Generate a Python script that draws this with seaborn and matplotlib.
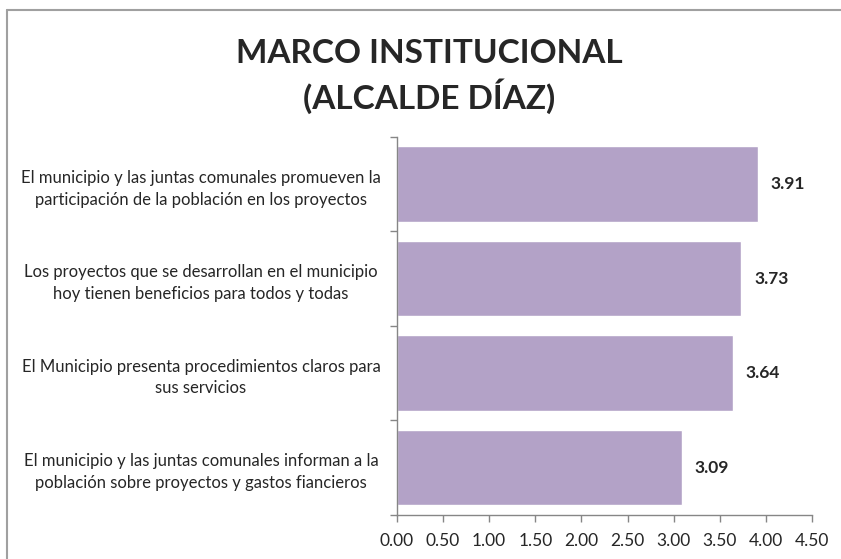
import matplotlib.pyplot as plt
from matplotlib.lines import Line2D
from matplotlib.ticker import FixedLocator
import seaborn as sns
import pandas as pd

# data
items = [
    "El municipio y las juntas comunales promueven la\nparticipación de la población en los proyectos",
    "Los proyectos que se desarrollan en el municipio\nhoy tienen beneficios para todos y todas",
    "El Municipio presenta procedimientos claros para\nsus servicios",
    "El municipio y las juntas comunales informan a la\npoblación sobre proyectos y gastos fiancieros",
]
scores = [3.91, 3.73, 3.64, 3.09]
x_ticks = [0.0, 0.5, 1.0, 1.5, 2.0, 2.5, 3.0, 3.5, 4.0, 4.5]

df = pd.DataFrame({"item": items, "score": scores})

sns.set_style("white")
plt.rcParams["font.family"] = ["Lato", "DejaVu Sans"]

fig = plt.figure(figsize=(8.41, 5.59), dpi=100)
ax = fig.add_axes([0.472, 0.079, 0.4935, 0.676])

sns.barplot(data=df, x="score", y="item", orient="h", color="#B3A2C7",
            saturation=1, width=0.8, ax=ax)

ax.set_xlim(0, 4.5)
ax.set_xticks(x_ticks)
ax.set_xticklabels([f"{t:.2f}" for t in x_ticks], fontsize=12.5)
ax.set_xlabel("")
ax.set_ylabel("")
ax.set_ylim(3.5, -0.5)

# category boundary tick marks like the original
ax.yaxis.set_minor_locator(FixedLocator([-0.5, 0.5, 1.5, 2.5, 3.5]))
ax.tick_params(axis="y", which="major", length=0, labelsize=12)
ax.tick_params(axis="y", which="minor", length=5, width=1, color="#868686", left=True)
ax.tick_params(axis="x", which="major", length=5, width=1, color="#868686",
               bottom=True, pad=8)
for lbl in ax.get_yticklabels():
    lbl.set_horizontalalignment("center")
    lbl.set_multialignment("center")
    lbl.set_linespacing(1.45)
# centre of the label block sits ~196 px left of the axis
ax.yaxis.set_tick_params(which="major", pad=196 * 72 / 100)

for side in ["top", "right"]:
    ax.spines[side].set_visible(False)
for side in ["left", "bottom"]:
    ax.spines[side].set_color("#868686")
    ax.spines[side].set_linewidth(1)

for i, v in enumerate(scores):
    ax.annotate(f"{v:.2f}", xy=(v, i), xytext=(13, 0), textcoords="offset pixels",
                ha="left", va="center", fontsize=12.5, fontweight="bold")

fig.suptitle("MARCO INSTITUCIONAL\n(ALCALDE DÍAZ)", x=0.51, y=0.93,
             fontsize=24, fontweight="bold", linespacing=1.35)

# chart border: only the top and left edges show in the crop
bx, by = 7 / 841, 1 - 10 / 559
fig.add_artist(Line2D([bx, 1.0], [by, by], transform=fig.transFigure,
                      color="#A0A0A0", linewidth=1.5))
fig.add_artist(Line2D([bx, bx], [0.0, by], transform=fig.transFigure,
                      color="#A0A0A0", linewidth=1.5))

fig.savefig("out.png", dpi=100)
